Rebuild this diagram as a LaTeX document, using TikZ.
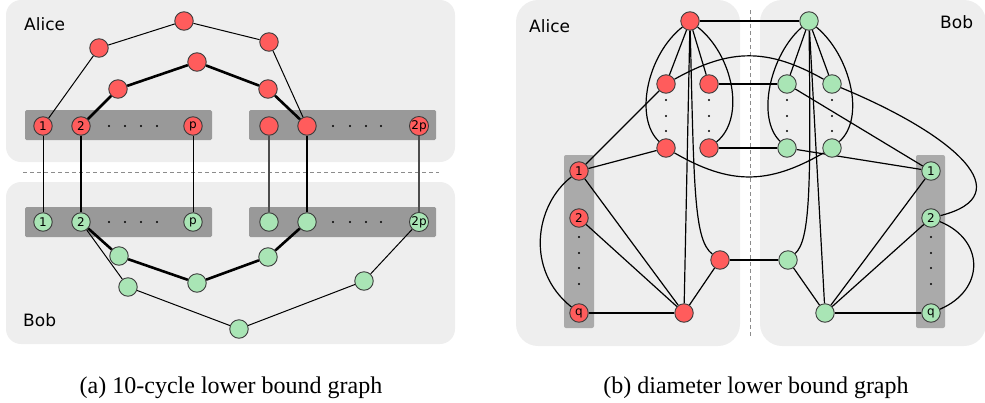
\documentclass[tikz,border=0pt]{standalone}
\usepackage{fontspec}
\setmainfont{Liberation Serif}
\newfontfamily\djv{DejaVu Sans}
\definecolor{nred}{HTML}{FF5C5C}
\definecolor{ngreen}{HTML}{A9E5B5}
\definecolor{pbg}{HTML}{EEEEEE}
\definecolor{barA}{HTML}{999999}
\definecolor{barB}{HTML}{AAAAAA}
\definecolor{nborder}{HTML}{3C3C3C}
\pgfdeclarelayer{back}
\pgfdeclarelayer{edges}
\pgfsetlayers{back,edges,main}
\begin{document}
\begin{tikzpicture}[x=1pt,y=-1pt,
  vr/.style={circle,draw=nborder,fill=nred,line width=0.9pt,minimum size=18.5pt,inner sep=0pt,font=\djv\fontsize{12}{12}\selectfont},
  vg/.style={vr,fill=ngreen},
  ln/.style={line width=1pt,black},
  lnr/.style={line width=1.2pt,black},
  lng/.style={line width=1.3pt,black!70},
  tk/.style={line width=2.6pt,black},
  dotc/.style={fill=black},
  lbl/.style={font=\djv\fontsize{17}{17}\selectfont,inner sep=0pt},
  captext/.style={font=\fontsize{24}{26}\selectfont,inner sep=0pt},
  panelL/.style={fill=pbg,rounded corners=15pt},
  panelR/.style={fill=pbg,rounded corners=22pt},
  sepline/.style={draw=black!45,dashed,dash pattern=on 4pt off 3pt,line width=0.8pt}]
\useasboundingbox (0,0) rectangle (985,402);

% ---------------- (a) left panel ----------------
\node[vr] (la1) at (43,126) {1};
\node[vr] (la2) at (81,126) {2};
\node[vr] (lap) at (193,126) {p};
\node[vr] (lb1) at (269,126) {};
\node[vr] (lb2) at (307,126) {};
\node[vr] (lb2p) at (419,126) {2p};
\node[vr] (lo1) at (99,48) {};
\node[vr] (lo2) at (184,21) {};
\node[vr] (lo3) at (269,42) {};
\node[vr] (li1) at (118,89) {};
\node[vr] (li2) at (197,62) {};
\node[vr] (li3) at (268,89) {};

\node[vg] (lc1) at (43,222) {1};
\node[vg] (lc2) at (81,222) {2};
\node[vg] (lcp) at (193,222) {p};
\node[vg] (ld1) at (269,222) {};
\node[vg] (ld2) at (307,222) {};
\node[vg] (ld2p) at (419,222) {2p};
\node[vg] (lj1) at (119,256) {};
\node[vg] (lj2) at (197,283) {};
\node[vg] (lj3) at (268,257) {};
\node[vg] (lq1) at (128,287) {};
\node[vg] (lq2) at (239,329) {};
\node[vg] (lq3) at (364,281) {};

\node[lbl,anchor=base west] (lalice) at (24,30) {Alice};
\node[lbl,anchor=base west] (lbob) at (23,326) {Bob};
\node[captext,anchor=base] (capa) at (231,393) {(a) 10-cycle lower bound graph};

% ---------------- (b) right panel ----------------
\node[vr] (rT) at (690,21) {};
\node[vr] (rL1) at (666,84) {};
\node[vr] (rR1) at (709,84) {};
\node[vr] (rL2) at (666,148) {};
\node[vr] (rR2) at (709,148) {};
\node[vr] (rA1) at (579,171) {1};
\node[vr] (rA2) at (579,218) {2};
\node[vr] (rAq) at (579,313) {q};
\node[vr] (rBt) at (684,313) {};
\node[vr] (rM) at (720,260) {};

\node[vg] (gT) at (809,21) {};
\node[vg] (gL1) at (787,84) {};
\node[vg] (gR1) at (832,84) {};
\node[vg] (gL2) at (787,148) {};
\node[vg] (gR2) at (832,148) {};
\node[vg] (gB1) at (931,171) {1};
\node[vg] (gB2) at (931,218) {2};
\node[vg] (gBq) at (931,313) {q};
\node[vg] (gBt) at (825,313) {};
\node[vg] (gM) at (788,260) {};

\node[lbl,anchor=base west] (ralice) at (529,32) {Alice};
\node[lbl,anchor=base west] (rbob) at (940,28) {Bob};
\node[captext,anchor=base] (capb) at (756,393) {(b) diameter lower bound graph};

% ---------------- backgrounds ----------------
\begin{pgfonlayer}{back}
  \fill[panelL] (6,0) rectangle (455,162);
  \fill[panelL] (6,182) rectangle (455,344);
  \draw[sepline] (23,172) -- (439,172);
  \fill[barA,rounded corners=1.5pt] (25,110) rectangle (212,140);
  \fill[barA,rounded corners=1.5pt] (249,110) rectangle (436,140);
  \fill[barA,rounded corners=1.5pt] (25,207) rectangle (212,237);
  \fill[barA,rounded corners=1.5pt] (249,207) rectangle (436,237);

  \fill[panelR] (516,0) rectangle (740,346);
  \fill[panelR] (760,0) rectangle (986,346);
  \draw[sepline] (750,10) -- (750,338);
  \fill[barB,rounded corners=2pt] (564,155) rectangle (594,328);
  \fill[barB,rounded corners=2pt] (916,155) rectangle (945,328);
\end{pgfonlayer}

% ---------------- edges ----------------
\begin{pgfonlayer}{edges}
  % (a)
  \draw[ln] (la1) -- (lo1) -- (lo2) -- (lo3) -- (lb2);
  \draw[tk] (la2) -- (li1) -- (li2) -- (li3) -- (lb2);
  \draw[ln] (la1) -- (lc1);
  \draw[tk] (la2) -- (lc2);
  \draw[ln] (lap) -- (lcp);
  \draw[lng] (lb1) -- (ld1);
  \draw[tk] (lb2) -- (ld2);
  \draw[lng] (lb2p) -- (ld2p);
  \draw[tk] (lc2) -- (lj1) -- (lj2) -- (lj3) -- (ld2);
  \draw[ln] (lc2) -- (lq1) -- (lq2) -- (lq3) -- (ld2p);
  \foreach \x in {109,125,141,157,333,350,366,381} {
    \fill[dotc] (\x,126) circle (1.1pt);
    \fill[dotc] (\x,222) circle (1.1pt);
  }
  % (b) Alice
  \draw[lnr] (rT) -- (rL1);
  \draw[lnr] (rT) -- (rR1);
  \draw[lnr] (rT) .. controls (647,55) and (634,118) .. (rL2);
  \draw[lnr] (rT) .. controls (733,55) and (746,118) .. (rR2);
  \draw[lnr] (rT) -- (rBt);
  \draw[lnr] (rT) .. controls (694,190) and (694,240) .. (rM);
  \draw[lnr] (rT) -- (gT);
  \draw[lnr] (rR1) -- (gL1);
  \draw[lnr] (rR2) -- (gL2);
  \draw[lnr] (rM) -- (gM);
  \draw[lnr] (rL1) -- (rA1);
  \draw[lnr] (rL2) -- (rA1);
  \draw[lnr] (rL1) .. controls (730,48) and (768,48) .. (gR1);
  \draw[lnr] (rL2) .. controls (730,185) and (768,185) .. (gR2);
  \draw[lnr] (rA1) .. controls (535,205) and (525,270) .. (rAq);
  \draw[lnr] (rA1) -- (rBt);
  \draw[lnr] (rA2) -- (rBt);
  \draw[lnr] (rAq) -- (rBt);
  \draw[lnr] (rBt) -- (rM);
  % (b) Bob
  \draw[lnr] (gT) -- (gL1);
  \draw[lnr] (gT) -- (gR1);
  \draw[lnr] (gT) .. controls (770,55) and (756,118) .. (gL2);
  \draw[lnr] (gT) .. controls (850,55) and (866,118) .. (gR2);
  \draw[lnr] (gT) -- (gBt);
  \draw[lnr] (gT) .. controls (811,190) and (810,240) .. (gM);
  \draw[lnr] (gL1) -- (gB1);
  \draw[lnr] (gL2) -- (gB1);
  \draw[lnr] (gR1) .. controls (955,135) and (1022,195) .. (gB2);
  \draw[lnr] (gB1) -- (gBt);
  \draw[lnr] (gB2) -- (gBt);
  \draw[lnr] (gBq) -- (gBt);
  \draw[lnr] (gB2) .. controls (985,240) and (985,290) .. (gBq);
  \draw[lnr] (gBt) -- (gM);
  \foreach \y in {100,116,131} {
    \fill[dotc] (666,\y) circle (1.1pt);
    \fill[dotc] (709,\y) circle (1.1pt);
    \fill[dotc] (787,\y) circle (1.1pt);
    \fill[dotc] (832,\y) circle (1.1pt);
  }
  \foreach \y in {237,253,268,284} {
    \fill[dotc] (579,\y) circle (1.1pt);
    \fill[dotc] (931,\y) circle (1.1pt);
  }
\end{pgfonlayer}
\end{tikzpicture}
\end{document}
